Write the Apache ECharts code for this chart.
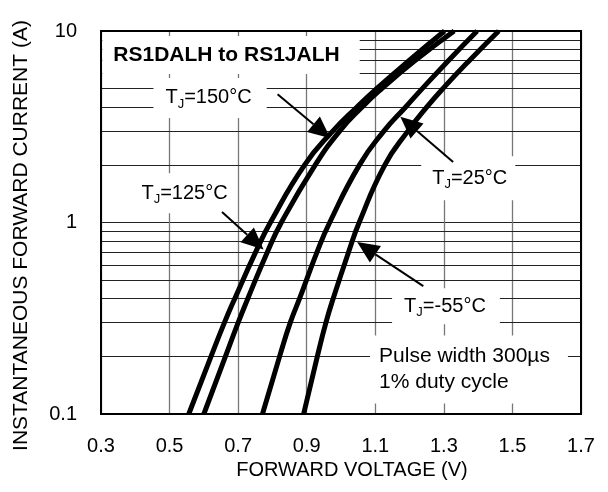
<!DOCTYPE html>
<html><head><meta charset="utf-8">
<script src="https://cdn.jsdelivr.net/npm/echarts@6/dist/echarts.min.js"></script>
<style>html,body{margin:0;padding:0;background:#fff}#c{width:608px;height:492px}</style>
</head><body><div id="c"></div>
<script>
// ---- data ----
const currentA = [0.1, 0.2, 0.3, 0.4, 0.7, 1, 2, 3, 4, 5, 7, 10];
const volt150 = [0.556, 0.621, 0.660, 0.690, 0.751, 0.794, 0.894, 0.976, 1.046, 1.104, 1.198, 1.302];
const volt125 = [0.600, 0.663, 0.700, 0.728, 0.785, 0.826, 0.925, 0.996, 1.061, 1.119, 1.216, 1.330];
const volt25  = [0.771, 0.821, 0.852, 0.879, 0.930, 0.967, 1.054, 1.125, 1.188, 1.237, 1.313, 1.397];
const voltM55 = [0.891, 0.931, 0.956, 0.977, 1.022, 1.053, 1.128, 1.195, 1.250, 1.297, 1.374, 1.460];
const minorCurrents = [0.2, 0.3, 0.4, 0.5, 0.6, 0.7, 0.8, 0.9, 2, 3, 4, 5, 6, 7, 8, 9];
const xTickLabels = ['0.3', '0.5', '0.7', '0.9', '1.1', '1.3', '1.5', '1.7'];
const yTickLabels = ['0.1', '1', '10'];

const FONT = '"Liberation Sans", Arial, Helvetica, sans-serif';
const chart = echarts.init(document.getElementById('c'), null, {renderer: 'canvas'});

function curve(name, volts) {
  return {
    name, type: 'line', data: volts.map((v, i) => [v, currentA[i]]),
    smooth: 0.5, symbol: 'none', clip: true, z: 5,
    lineStyle: {color: '#000', width: 5, cap: 'butt', join: 'round'}
  };
}

chart.setOption({
  animation: false,
  grid: {left: 101, right: 27, top: 31, bottom: 78, containLabel: false, outerBoundsMode: 'none'},
  xAxis: {
    type: 'value', min: 0.3, max: 1.7, interval: 0.2,
    axisLine: {show: false}, axisTick: {show: false},
    splitLine: {show: true, lineStyle: {color: '#777', width: 1.3}},
    axisLabel: {margin: 22, fontSize: 20, color: '#000', fontFamily: FONT,
      formatter: v => { const i = Math.round((v - 0.3) / 0.2); return xTickLabels[i] ?? v.toFixed(1); }},
    name: 'FORWARD VOLTAGE (V)', nameLocation: 'middle', nameGap: 46,
    nameTextStyle: {fontSize: 20, color: '#000', fontFamily: FONT, padding: [0, 0, 0, 22]}
  },
  yAxis: {
    type: 'log', logBase: 10, min: 0.1, max: 10,
    axisLine: {show: false}, axisTick: {show: false},
    splitLine: {show: true, lineStyle: {color: '#222', width: 1}},
    axisLabel: {margin: 24, fontSize: 20, color: '#000', fontFamily: FONT,
      formatter: v => { const i = Math.round(Math.log10(v)) + 1; return yTickLabels[i] ?? String(v); }},
    name: 'INSTANTANEOUS FORWARD CURRENT (A)', nameLocation: 'middle', nameGap: 69,
    nameTextStyle: {fontSize: 21, color: '#000', fontFamily: FONT, padding: [0, 26, 0, 0]}
  },
  series: [
    {
      type: 'line', data: [], silent: true, z: 1,
      markLine: {
        silent: true, symbol: ['none', 'none'], animation: false,
        label: {show: false}, lineStyle: {color: '#222', width: 1, type: 'solid'},
        data: minorCurrents.map(v => ({yAxis: v}))
      }
    },
    curve('TJ=150°C', volt150),
    curve('TJ=125°C', volt125),
    curve('TJ=25°C', volt25),
    curve('TJ=-55°C', voltM55)
  ]
});

// ---- annotations (anchored in data coordinates) ----
const P = (v, i) => chart.convertToPixel({xAxisIndex: 0, yAxisIndex: 0}, [v, i]);
const tjRich = {
  t: {fontSize: 20, fontFamily: FONT, color: '#000', lineHeight: 26},
  s: {fontSize: 13, fontFamily: FONT, color: '#000', lineHeight: 13, verticalAlign: 'bottom'}
};
const labels = [
  {at: [0.336, 7.49], text: 'RS1DALH to RS1JALH', font: 'bold 21px', pad: [6, 20, 6, 11]},
  {at: [0.488, 4.47], text: '{t|T}{s|J}{t|=150°C}', rich: true, pad: [7, 15, 7, 12]},
  {at: [0.418, 1.42], text: '{t|T}{s|J}{t|=125°C}', rich: true, pad: [7, 8, 7, 10]},
  {at: [1.266, 1.70], text: '{t|T}{s|J}{t|=25°C}', rich: true, pad: [9, 8, 9, 11]},
  {at: [1.184, 0.365], text: '{t|T}{s|J}{t|=-55°C}', rich: true, pad: [5, 14, 5, 12]},
  {at: [1.111, 0.171], text: 'Pulse width 300µs\n1% duty cycle', font: '21px', pad: [8, 18, 8, 9]}
];
const arrows = [
  {from: [0.815, 4.67], to: [0.969, 2.75]},
  {from: [0.653, 1.135], to: [0.774, 0.722]},
  {from: [1.327, 2.07], to: [1.173, 3.57]},
  {from: [1.240, 0.465], to: [1.047, 0.79]}
];

const g = [];
labels.forEach(l => {
  const [x, y] = P(l.at[0], l.at[1]);
  const style = {
    text: l.text, x: 0, y: 0, align: 'left', verticalAlign: 'middle',
    fill: '#000', backgroundColor: '#fff', padding: l.pad
  };
  if (l.rich) { style.rich = tjRich; style.font = '20px ' + FONT; }
  else { style.font = l.font + ' ' + FONT; style.lineHeight = 26; }
  g.push({type: 'text', x: x - l.pad[3], y: y, z: 60, style});
});
arrows.forEach(a => {
  const [x0, y0] = P(a.from[0], a.from[1]);
  const [x1, y1] = P(a.to[0], a.to[1]);
  const len = Math.hypot(x1 - x0, y1 - y0);
  const dx = (x1 - x0) / len, dy = (y1 - y0) / len;
  const L = 22, W = 20;
  const bx = x1 - dx * L, by = y1 - dy * L;
  g.push({type: 'line', z: 70, shape: {x1: x0, y1: y0, x2: bx, y2: by}, style: {stroke: '#000', lineWidth: 2}});
  g.push({type: 'polygon', z: 70, shape: {points: [[x1, y1], [bx - dy * W / 2, by + dx * W / 2], [bx + dy * W / 2, by - dx * W / 2]]}, style: {fill: '#000'}});
});
// plot frame
const [fx0, fy0] = P(0.3, 10);
const [fx1, fy1] = P(1.7, 0.1);
g.push({type: 'rect', z: 80, shape: {x: fx0, y: fy0, width: fx1 - fx0, height: fy1 - fy0}, style: {fill: 'none', stroke: '#000', lineWidth: 2}});
chart.setOption({graphic: g});
</script>
</body></html>
